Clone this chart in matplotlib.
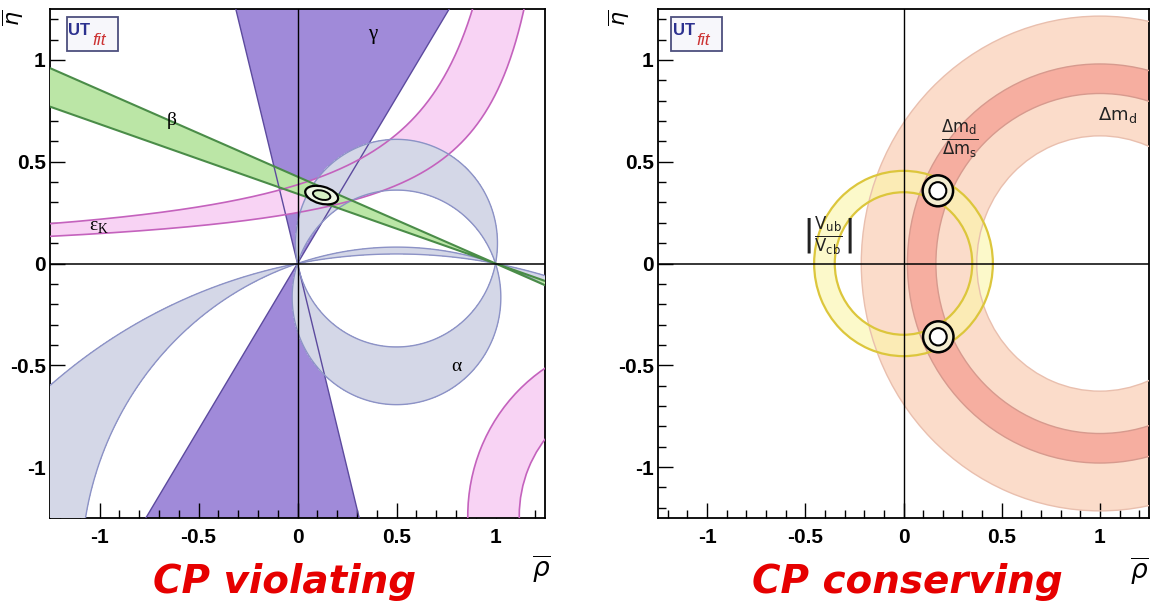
import numpy as np
import matplotlib.pyplot as plt
from matplotlib.patches import Wedge, Ellipse, Rectangle
from matplotlib.ticker import MultipleLocator

plt.rcParams['font.family'] = ['Liberation Sans', 'DejaVu Sans']
plt.rcParams['mathtext.fontset'] = 'dejavusans'

# ---- constraints (rho-bar / eta-bar plane) ----
GAMMA_DEG   = (58.5, 104.0)                      # wedge with apex at (0,0)
BETA_DEG    = (18.9, 23.1)                       # wedge with apex at (1,0)
ALPHA_DEG   = [(78.7, 108.4), (161.7, 169.3)]    # apex angle ranges (mod 180)
EPSK_EDGES  = [(1.28, 0.495), (1.43, 0.3575)]    # eta*(a - rho) = b : upper, lower edge
EPSK_BRANCH = ((1.73, -1.24), 0.61, 0.87)        # lower right branch: centre, r_in, r_out
FIT_VIOL    = (0.122, 0.336)

DMD_R     = (0.627, 1.215)     # radii around (1,0)
DMD_DMS_R = (0.835, 0.98)      # radii around (1,0)
VUB_R     = (0.35, 0.455)      # radii around (0,0)
FIT_CONS  = [(0.175, 0.357), (0.177, -0.36)]

TICKS       = [-1, -0.5, 0, 0.5, 1]
TICK_LABELS = ['-1', '-0.5', '0', '0.5', '1']
LIM = 1.25
# ---------------------------------------------------------------------

EDGE_Z = 6


def band(ax, center, r, t1, t2, width=None, fc='none', ec='none', lw=1.0, alpha=1.0, z=1):
    # fill first, outline later on top of every fill
    ax.add_patch(Wedge(center, r, t1, t2, width=width, facecolor=fc,
                       edgecolor='none', alpha=alpha, zorder=z))
    ax.add_patch(Wedge(center, r, t1, t2, width=width, facecolor='none',
                       edgecolor=ec, lw=lw, zorder=EDGE_Z))


def apex_angle(r, e):
    ux, uy = -r, -e
    vx, vy = 1 - r, -e
    c = (ux * vx + uy * vy) / np.sqrt((ux * ux + uy * uy) * (vx * vx + vy * vy))
    return np.degrees(np.arccos(np.clip(c, -1, 1)))


def style_axes(ax, eta_x):
    ax.set_xlim(-LIM, LIM)
    ax.set_ylim(-LIM, LIM)
    ax.set_xticks(TICKS)
    ax.set_xticklabels(TICK_LABELS)
    ax.set_yticks(TICKS)
    ax.set_yticklabels(TICK_LABELS)
    ax.xaxis.set_minor_locator(MultipleLocator(0.1))
    ax.yaxis.set_minor_locator(MultipleLocator(0.1))
    ax.tick_params(which='both', direction='in', top=False, right=False, width=1)
    ax.tick_params(which='major', length=11, labelsize=15)
    ax.tick_params(which='minor', length=5.5)
    ax.tick_params(axis='x', pad=7)
    ax.tick_params(axis='y', pad=3)
    for lab in ax.get_xticklabels() + ax.get_yticklabels():
        lab.set_fontweight('bold')
    for sp in ax.spines.values():
        sp.set_linewidth(1.3)
    ax.axhline(0, color='black', lw=1.1, zorder=7)
    ax.axvline(0, color='black', lw=1.0, zorder=7)
    ax.text(eta_x, 0.982, r'$\overline{\eta}$', transform=ax.transAxes,
            rotation=90, ha='center', va='center', fontsize=16)


def logo(ax, x0, w):
    ax.add_patch(Rectangle((x0, 0.917), w, 0.067, transform=ax.transAxes,
                           facecolor='#f7f7fb', edgecolor='#4d4f7e', lw=1.3, zorder=8))
    ax.text(x0 + 0.03 * w, 0.958, 'UT', transform=ax.transAxes, fontsize=12,
            fontweight='bold', color='#2c318f', ha='left', va='center', zorder=9)
    ax.text(x0 + 0.50 * w, 0.938, 'fit', transform=ax.transAxes, fontsize=12.5,
            style='italic', color='#cc3333', ha='left', va='center', zorder=9)


fig = plt.figure(figsize=(11.52, 6.11), dpi=100)
ax1 = fig.add_axes([50 / 1152, 93 / 611, 495 / 1152, 509 / 611])
ax2 = fig.add_axes([658 / 1152, 93 / 611, 491 / 1152, 509 / 611])

# ---------------- CP violating ----------------
# gamma
g1, g2 = GAMMA_DEG
for off in (0, 180):
    band(ax1, (0, 0), 4, g1 + off, g2 + off, fc='#a08ad9', ec='#5c4a9e', lw=1.0, z=1)

# epsilon_K
rho = np.linspace(-LIM, LIM, 800)
(a1, b1), (a2, b2) = EPSK_EDGES
ek_up = b1 / (a1 - rho)
ek_lo = b2 / (a2 - rho)
ax1.fill_between(rho, ek_lo, ek_up, color='#f8d3f4', lw=0, zorder=2)
ax1.plot(rho, ek_up, color='#c462bd', lw=1.2, zorder=EDGE_Z)
ax1.plot(rho, ek_lo, color='#c462bd', lw=1.2, zorder=EDGE_Z)
(cx, cy), r_in, r_out = EPSK_BRANCH
band(ax1, (cx, cy), r_out, 0, 360, width=r_out - r_in, fc='#f8d3f4', ec='#c462bd', lw=1.2, z=2)

# alpha (apex angle, split at the real axis)
rg = np.linspace(-LIM, LIM, 1400)
for lo_e, hi_e, flip in ((0, LIM, False), (-LIM, 0, True)):
    rr, ee = np.meshgrid(rg, np.linspace(lo_e, hi_e, 700))
    ang = apex_angle(rr, ee)
    if flip:
        ang = 180 - ang
    for lo, hi in ALPHA_DEG:
        ax1.contourf(rr, ee, ang, levels=[lo, hi], colors=['#d4d7e7'], zorder=3)
        ax1.contour(rr, ee, ang, levels=[lo, hi], colors=['#8c92c6'], linewidths=1.0, zorder=EDGE_Z)

# beta
bt1, bt2 = BETA_DEG
band(ax1, (1, 0), 4, 180 - bt2, 180 - bt1, fc='#bbe6a6', ec='#4a8c48', lw=1.5, z=4)
band(ax1, (1, 0), 4, -bt2, -bt1, fc='#bbe6a6', ec='#4a8c48', lw=1.5, z=4)

# fit result
ax1.add_patch(Ellipse(FIT_VIOL, 0.17, 0.084, angle=-14, facecolor='#eef6e4',
                      edgecolor='black', lw=1.6, zorder=8))
ax1.add_patch(Ellipse(FIT_VIOL, 0.09, 0.044, angle=-14, facecolor='#d6efc4',
                      edgecolor='black', lw=1.4, zorder=8))

greek = dict(family=['Liberation Serif', 'DejaVu Serif'], ha='center', va='center', zorder=9)
ax1.text(0.38, 1.125, 'γ', fontsize=15, **greek)
ax1.text(-0.636, 0.70, 'β', fontsize=14, **greek)
ax1.text(-1.0, 0.175, r'ε$_\mathregular{K}$', fontsize=14, **greek)
ax1.text(0.80, -0.508, 'α', fontsize=14, **greek)

style_axes(ax1, -0.075)
logo(ax1, 0.034, 0.103)
ax1.text(0.992, -0.10, r'$\overline{\rho}$', transform=ax1.transAxes,
         ha='center', va='center', fontsize=19)

# ---------------- CP conserving ----------------
band(ax2, (1, 0), DMD_R[1], 0, 360, width=DMD_R[1] - DMD_R[0],
     fc='#fbdcca', ec='#e9bfae', lw=1.0, z=1)
band(ax2, (1, 0), DMD_DMS_R[1], 0, 360, width=DMD_DMS_R[1] - DMD_DMS_R[0],
     fc='#f6aea0', ec='#d79a8e', lw=1.0, z=2)
band(ax2, (0, 0), VUB_R[1], 0, 360, width=VUB_R[1] - VUB_R[0],
     fc='#fbf6a8', ec='#dcc63c', lw=1.6, alpha=0.6, z=3)

for c in FIT_CONS:
    ax2.add_patch(Ellipse(c, 0.155, 0.152, facecolor='#f4eed2', edgecolor='black', lw=1.8, zorder=8))
    ax2.add_patch(Ellipse(c, 0.086, 0.085, facecolor='white', edgecolor='black', lw=1.5, zorder=8))

sans = dict(ha='center', va='center', zorder=9, color='#222222')
ax2.text(1.09, 0.727, r'$\Delta\mathrm{m}_\mathrm{d}$', fontsize=13, **sans)
ax2.text(0.288, 0.609, r'$\frac{\Delta\mathrm{m}_\mathrm{d}}{\Delta\mathrm{m}_\mathrm{s}}$', fontsize=17, **sans)
ax2.text(-0.384, 0.134, r'$\left|\frac{\mathrm{V}_\mathrm{ub}}{\mathrm{V}_\mathrm{cb}}\right|$', fontsize=17, **sans)

style_axes(ax2, -0.079)
logo(ax2, 0.027, 0.103)
ax2.text(0.98, -0.105, r'$\overline{\rho}$', transform=ax2.transAxes,
         ha='center', va='center', fontsize=19)

# ---------------- captions ----------------
cap = dict(color='#e60000', fontsize=28, fontweight='bold', style='italic',
           family=['DejaVu Sans'], ha='center', va='baseline')
fig.text(285 / 1152, 1 - 593 / 611, 'CP violating', **cap)
fig.text(907 / 1152, 1 - 593 / 611, 'CP conserving', **cap)

fig.savefig('out.png', dpi=100)
